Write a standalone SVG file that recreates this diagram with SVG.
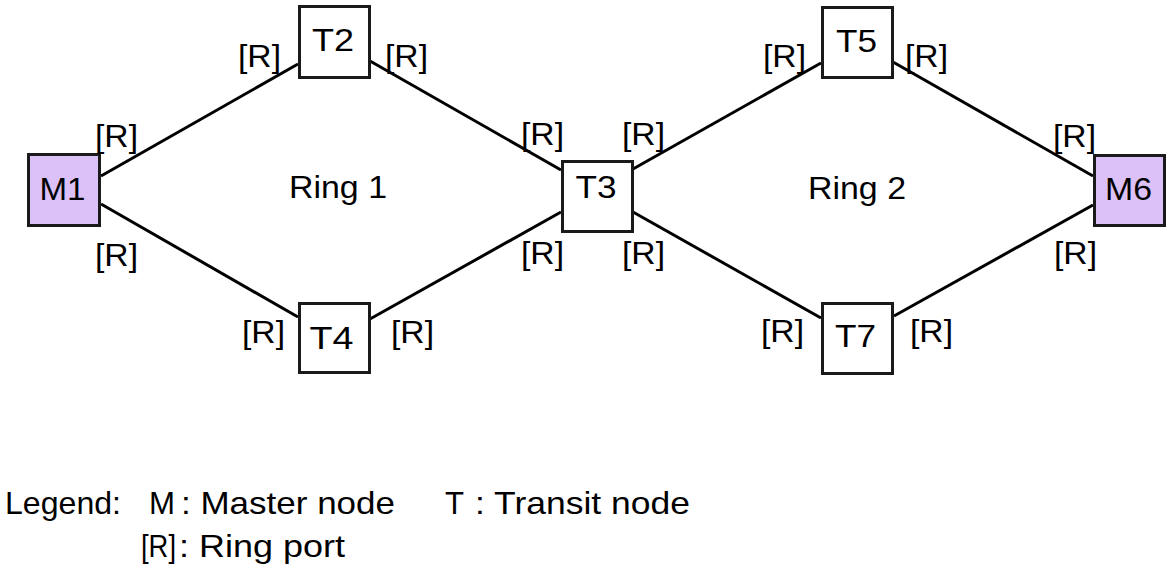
<svg xmlns="http://www.w3.org/2000/svg" width="1172" height="575" viewBox="0 0 1172 575">
<style>
.bg{fill:#ffffff}
.box{fill:#ffffff;stroke:#1a1a1a;stroke-width:3}
.master{fill:#dbc1f7}
.lbl{font-family:"Liberation Sans",Arial,sans-serif;font-size:32px;fill:#000}
.port{font-family:"Liberation Sans",Arial,sans-serif;font-size:32px;fill:#000}
.leg{font-family:"Liberation Sans",Arial,sans-serif;font-size:32px;fill:#000}
.link{stroke:#000;stroke-width:3;fill:none}
</style>
<rect class="bg" x="0" y="0" width="1172" height="575"/>
<g id="connectors">
<line class="link" x1="101" y1="176" x2="298" y2="64"/>
<line class="link" x1="101" y1="204" x2="298" y2="317"/>
<line class="link" x1="370" y1="61" x2="561" y2="170"/>
<line class="link" x1="370" y1="319" x2="561" y2="212"/>
<line class="link" x1="633" y1="169" x2="821" y2="63"/>
<line class="link" x1="633" y1="212" x2="821" y2="318"/>
<line class="link" x1="893" y1="62" x2="1093" y2="176"/>
<line class="link" x1="894" y1="316" x2="1093" y2="205"/>
</g>
<g id="M1">
<rect class="box master" x="28.5" y="154.5" width="71" height="71"/>
<text class="lbl" x="62.5" y="200" text-anchor="middle" textLength="46" lengthAdjust="spacingAndGlyphs">M1</text>
</g>
<g id="T2">
<rect class="box" x="299.5" y="6.5" width="70" height="71"/>
<text class="lbl" x="333" y="51" text-anchor="middle" textLength="42" lengthAdjust="spacingAndGlyphs">T2</text>
</g>
<g id="T3">
<rect class="box" x="562.5" y="161.5" width="70" height="70"/>
<text class="lbl" x="596" y="198" text-anchor="middle" textLength="41" lengthAdjust="spacingAndGlyphs">T3</text>
</g>
<g id="T4">
<rect class="box" x="299.5" y="303.5" width="70" height="69"/>
<text class="lbl" x="331.5" y="349" text-anchor="middle" textLength="44" lengthAdjust="spacingAndGlyphs">T4</text>
</g>
<g id="T5">
<rect class="box" x="822.5" y="7.5" width="70" height="70"/>
<text class="lbl" x="856.5" y="52" text-anchor="middle" textLength="41" lengthAdjust="spacingAndGlyphs">T5</text>
</g>
<g id="T7">
<rect class="box" x="822.5" y="303.5" width="70" height="70"/>
<text class="lbl" x="855.5" y="347" text-anchor="middle" textLength="41" lengthAdjust="spacingAndGlyphs">T7</text>
</g>
<g id="M6">
<rect class="box master" x="1094.5" y="155.5" width="70" height="70"/>
<text class="lbl" x="1128.5" y="200" text-anchor="middle" textLength="47" lengthAdjust="spacingAndGlyphs">M6</text>
</g>
<g id="rings">
<text class="lbl" x="289" y="198" textLength="98" lengthAdjust="spacingAndGlyphs">Ring 1</text>
<text class="lbl" x="808" y="199" textLength="98" lengthAdjust="spacingAndGlyphs">Ring 2</text>
</g>
<g id="ports">
<text class="port" x="95" y="147" textLength="43" lengthAdjust="spacingAndGlyphs">[R]</text>
<text class="port" x="95" y="266" textLength="43" lengthAdjust="spacingAndGlyphs">[R]</text>
<text class="port" x="238" y="67" textLength="43" lengthAdjust="spacingAndGlyphs">[R]</text>
<text class="port" x="385" y="67" textLength="43" lengthAdjust="spacingAndGlyphs">[R]</text>
<text class="port" x="521" y="145" textLength="43" lengthAdjust="spacingAndGlyphs">[R]</text>
<text class="port" x="622" y="145" textLength="43" lengthAdjust="spacingAndGlyphs">[R]</text>
<text class="port" x="521" y="264" textLength="43" lengthAdjust="spacingAndGlyphs">[R]</text>
<text class="port" x="622" y="264" textLength="43" lengthAdjust="spacingAndGlyphs">[R]</text>
<text class="port" x="242" y="343" textLength="43" lengthAdjust="spacingAndGlyphs">[R]</text>
<text class="port" x="391" y="343" textLength="43" lengthAdjust="spacingAndGlyphs">[R]</text>
<text class="port" x="763" y="67" textLength="43" lengthAdjust="spacingAndGlyphs">[R]</text>
<text class="port" x="905" y="67" textLength="43" lengthAdjust="spacingAndGlyphs">[R]</text>
<text class="port" x="1053" y="147" textLength="43" lengthAdjust="spacingAndGlyphs">[R]</text>
<text class="port" x="1054" y="264" textLength="43" lengthAdjust="spacingAndGlyphs">[R]</text>
<text class="port" x="761" y="342" textLength="43" lengthAdjust="spacingAndGlyphs">[R]</text>
<text class="port" x="910" y="342" textLength="43" lengthAdjust="spacingAndGlyphs">[R]</text>
</g>
<g id="legend">
<text class="leg" x="5" y="514" textLength="116" lengthAdjust="spacingAndGlyphs">Legend:</text>
<text class="leg" x="149" y="514" textLength="26" lengthAdjust="spacingAndGlyphs">M</text>
<text class="leg" x="181" y="514" textLength="214" lengthAdjust="spacingAndGlyphs">: Master node</text>
<text class="leg" x="445" y="514" textLength="19" lengthAdjust="spacingAndGlyphs">T</text>
<text class="leg" x="475" y="514" textLength="215" lengthAdjust="spacingAndGlyphs">: Transit node</text>
<text class="leg" x="141" y="557" textLength="35" lengthAdjust="spacingAndGlyphs">[R]</text>
<text class="leg" x="179" y="557" textLength="166" lengthAdjust="spacingAndGlyphs">: Ring port</text>
</g>
</svg>
